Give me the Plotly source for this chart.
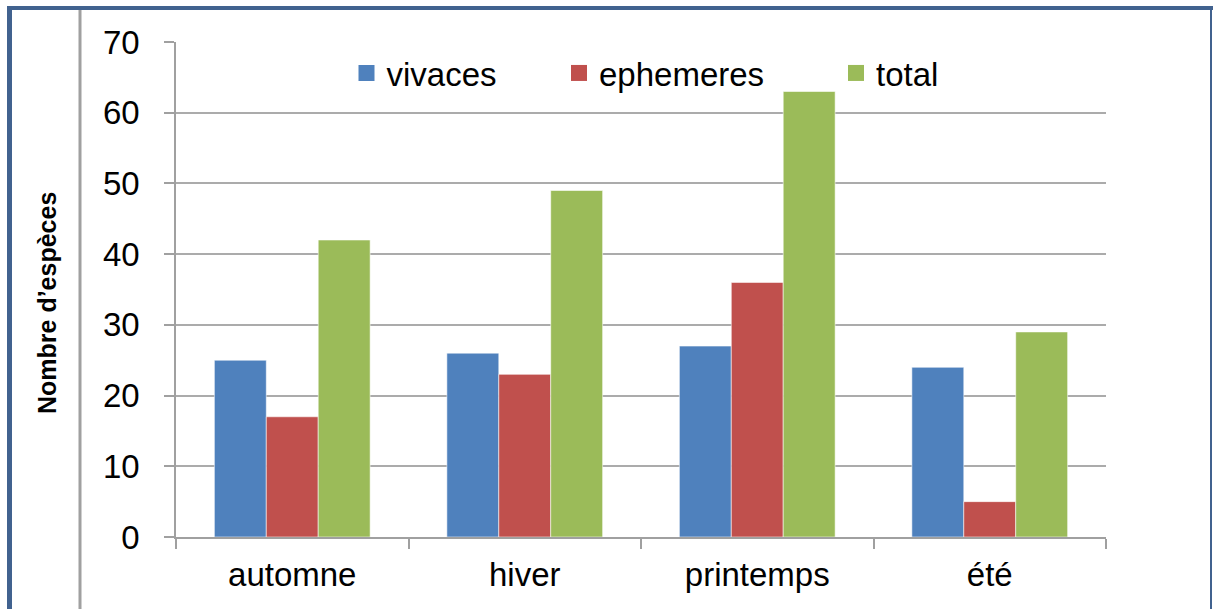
import plotly.graph_objects as go

categories = ["automne", "hiver", "printemps", "été"]
vivaces = [25, 26, 27, 24]
ephemeres = [17, 23, 36, 5]
total = [42, 49, 63, 29]
series_names = ["vivaces", "ephemeres", "total"]
colors = ["#4F81BD", "#C0504D", "#9BBB59"]
y_ticks = [0, 10, 20, 30, 40, 50, 60, 70]

W, H = 1213, 609
L, R, T, B = 176, 107, 42, 72
pw, ph = W - L - R, H - T - B

def px_x(p):
    return (p - L) / pw

def px_y(p):
    return (H - B - p) / ph

FONT = "Liberation Sans, Arial, sans-serif"

fig = go.Figure()
for name, vals, col in zip(series_names, [vivaces, ephemeres, total], colors):
    fig.add_trace(go.Bar(
        x=categories, y=vals, name=name, showlegend=False,
        marker=dict(color=col, line=dict(color="rgba(255,255,255,0.55)", width=1)),
    ))

legend_ids = ["legend", "legend2", "legend3"]
swatch_centers = [368.5, 581, 858]
for name, col, lid in zip(series_names, colors, legend_ids):
    fig.add_trace(go.Scatter(
        x=[None], y=[None], mode="markers", name=name, legend=lid,
        marker=dict(symbol="square", size=17, color=col),
    ))

legend_common = dict(
    orientation="h", yanchor="middle", xanchor="left",
    bgcolor="rgba(0,0,0,0)", borderwidth=0,
    font=dict(family=FONT, size=33, color="#000000"),
    itemwidth=30,
)
layout_legends = {}
for lid, cx in zip(legend_ids, swatch_centers):
    layout_legends[lid] = dict(legend_common, x=px_x(cx - 22), y=px_y(73))

blue = "#41628F"
shapes = [
    dict(type="line", xref="paper", yref="paper", x0=px_x(9.5), x1=px_x(9.5),
         y0=px_y(8), y1=px_y(640), line=dict(color=blue, width=5)),
    dict(type="line", xref="paper", yref="paper", x0=px_x(7), x1=px_x(1213),
         y0=px_y(8), y1=px_y(8), line=dict(color=blue, width=4)),
    dict(type="line", xref="paper", yref="paper", x0=px_x(1211), x1=px_x(1211),
         y0=px_y(8), y1=px_y(640), line=dict(color=blue, width=2)),
    dict(type="line", xref="paper", yref="paper", x0=px_x(80), x1=px_x(80),
         y0=px_y(10), y1=px_y(640), line=dict(color="#A0A0A0", width=3)),
]

fig.update_layout(
    width=W, height=H,
    margin=dict(l=L, r=R, t=T, b=B, pad=0),
    paper_bgcolor="white", plot_bgcolor="white",
    barmode="group", bargap=0.33, bargroupgap=0,
    font=dict(family=FONT, color="#000000"),
    shapes=shapes,
    annotations=[dict(
        text="<b>Nombre d’espèces</b>", textangle=-90,
        xref="paper", yref="paper", x=px_x(47), y=px_y(303),
        xanchor="center", yanchor="middle", showarrow=False,
        font=dict(family=FONT, size=25, color="#000000"),
    )],
    **layout_legends,
)

fig.update_yaxes(
    range=[0, 70], tickvals=y_ticks, showgrid=True, gridcolor="#ABABAB", gridwidth=1.5,
    showline=True, linecolor="#A0A0A0", linewidth=1.5,
    ticks="outside", ticklen=10, tickcolor="#A0A0A0", tickwidth=1.5,
    tickfont=dict(family=FONT, size=33, color="#000000"),
    ticklabelstandoff=18, zeroline=False,
)
fig.update_xaxes(
    showline=True, linecolor="#A0A0A0", linewidth=1.5,
    ticks="outside", ticklen=10, tickcolor="#A0A0A0", tickwidth=1.5,
    tickson="boundaries",
    tickfont=dict(family=FONT, size=33, color="#000000"),
    ticklabelstandoff=8,
)

fig.write_html(
    "out.html",
    config={"displayModeBar": False},
    post_script="document.body.style.margin='0';document.body.style.overflow='hidden';",
)
